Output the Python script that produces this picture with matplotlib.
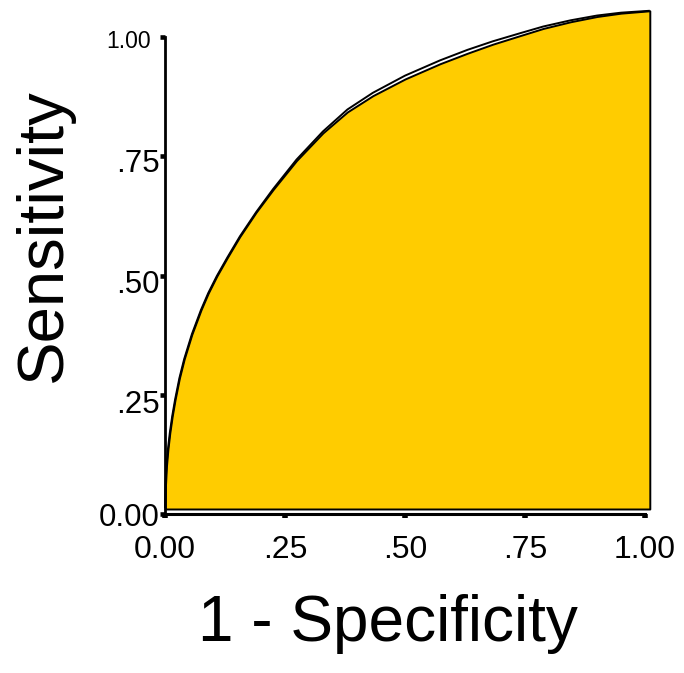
import matplotlib
matplotlib.use("Agg")
import matplotlib.pyplot as plt
from matplotlib.transforms import ScaledTranslation

plt.rcParams['font.family'] = ['Liberation Sans', 'DejaVu Sans']

# ROC curve (1 - specificity, sensitivity)
fpr = [0.000, 0.001, 0.003, 0.006, 0.010, 0.015, 0.021, 0.030, 0.040,
       0.056, 0.075, 0.090, 0.108, 0.130, 0.156, 0.190, 0.225, 0.274,
       0.329, 0.380, 0.433, 0.500, 0.573, 0.630, 0.683, 0.740, 0.788,
       0.845, 0.900, 0.950, 1.010]
sens = [0.0126, 0.060, 0.100, 0.135, 0.170, 0.205, 0.240, 0.285, 0.325,
        0.377, 0.428, 0.463, 0.499, 0.538, 0.582, 0.633, 0.680, 0.741,
        0.799, 0.843, 0.877, 0.912, 0.944, 0.966, 0.985, 1.003, 1.018,
        1.032, 1.043, 1.050, 1.055]
# second (outline) curve, slightly above the area in the middle
sens_upper = [0.0126, 0.060, 0.100, 0.135, 0.170, 0.205, 0.240, 0.285, 0.325,
              0.377, 0.428, 0.463, 0.499, 0.538, 0.582, 0.633, 0.681, 0.743,
              0.802, 0.848, 0.883, 0.919, 0.951, 0.973, 0.991, 1.008, 1.022,
              1.035, 1.045, 1.051, 1.055]
area_base = 0.0105

xticks = [0.0, 0.25, 0.5, 0.75, 1.0]
xticklabels = ['0.00', '.25', '.50', '.75', '1.00']
yticks = [0.0, 0.25, 0.5, 0.75, 1.0]
yticklabels = ['0.00', '.25', '.50', '.75', '1.00']

W, H = 684, 673
fig = plt.figure(figsize=(W / 100, H / 100), dpi=100)

# axes box in pixels
left_px, right_px, top_px, bot_px = 150, 670, 0, 530
x0_px, x1_px = 165, 645   # data 0 and 1 in x
y0_px, y1_px = 514, 37    # data 0 and 1 in y
ax = fig.add_axes([left_px / W, (H - bot_px) / H,
                   (right_px - left_px) / W, (bot_px - top_px) / H])
sx = x1_px - x0_px
sy = y0_px - y1_px
ax.set_xlim((left_px - x0_px) / sx, (right_px - x0_px) / sx)
ax.set_ylim((y0_px - bot_px) / sy, (y0_px - top_px) / sy)

ax.fill_between(fpr, area_base, sens, facecolor='#FFCC00',
                edgecolor='black', linewidth=1.4, zorder=2)
ax.plot(fpr, sens_upper, color='black', linewidth=1.4, zorder=3,
        solid_capstyle='butt')

for s in ['top', 'right']:
    ax.spines[s].set_visible(False)
ax.spines['left'].set_bounds(0, 1)
ax.spines['bottom'].set_bounds(0, 1)
ax.spines['left'].set_position(('data', 0))
ax.spines['bottom'].set_position(('data', 0))
ax.spines['left'].set_linewidth(2.0)
ax.spines['bottom'].set_linewidth(2.2)

ax.set_xticks(xticks, xticklabels, fontsize=23)
ax.set_yticks(yticks, yticklabels, fontsize=22.5)
ax.tick_params(axis='x', direction='out', length=3, width=4, pad=12)
ax.tick_params(axis='y', direction='out', length=3.6, width=3.3, pad=0.5)

# small per-label offsets seen in the reference
ylabels = ax.get_yticklabels()
ylabels[-1].set_fontsize(16.5)
offsets_px = [(0, 0), (0, -7), (0, -6), (0, -4), (-8, -2)]
for lab, (dx, dy) in zip(ylabels, offsets_px):
    lab.set_transform(lab.get_transform() +
                      ScaledTranslation(dx / 100, dy / 100, fig.dpi_scale_trans))

ax.set_xlabel('1 - Specificity', fontsize=46, va='center', ha='center')
ax.xaxis.set_label_coords(388 / W, (H - 624) / H, transform=fig.transFigure)
ax.set_ylabel('Sensitivity', fontsize=47, va='center', ha='center')
ax.yaxis.set_label_coords(44 / W, (H - 235) / H, transform=fig.transFigure)

fig.savefig('out.png', dpi=100)
